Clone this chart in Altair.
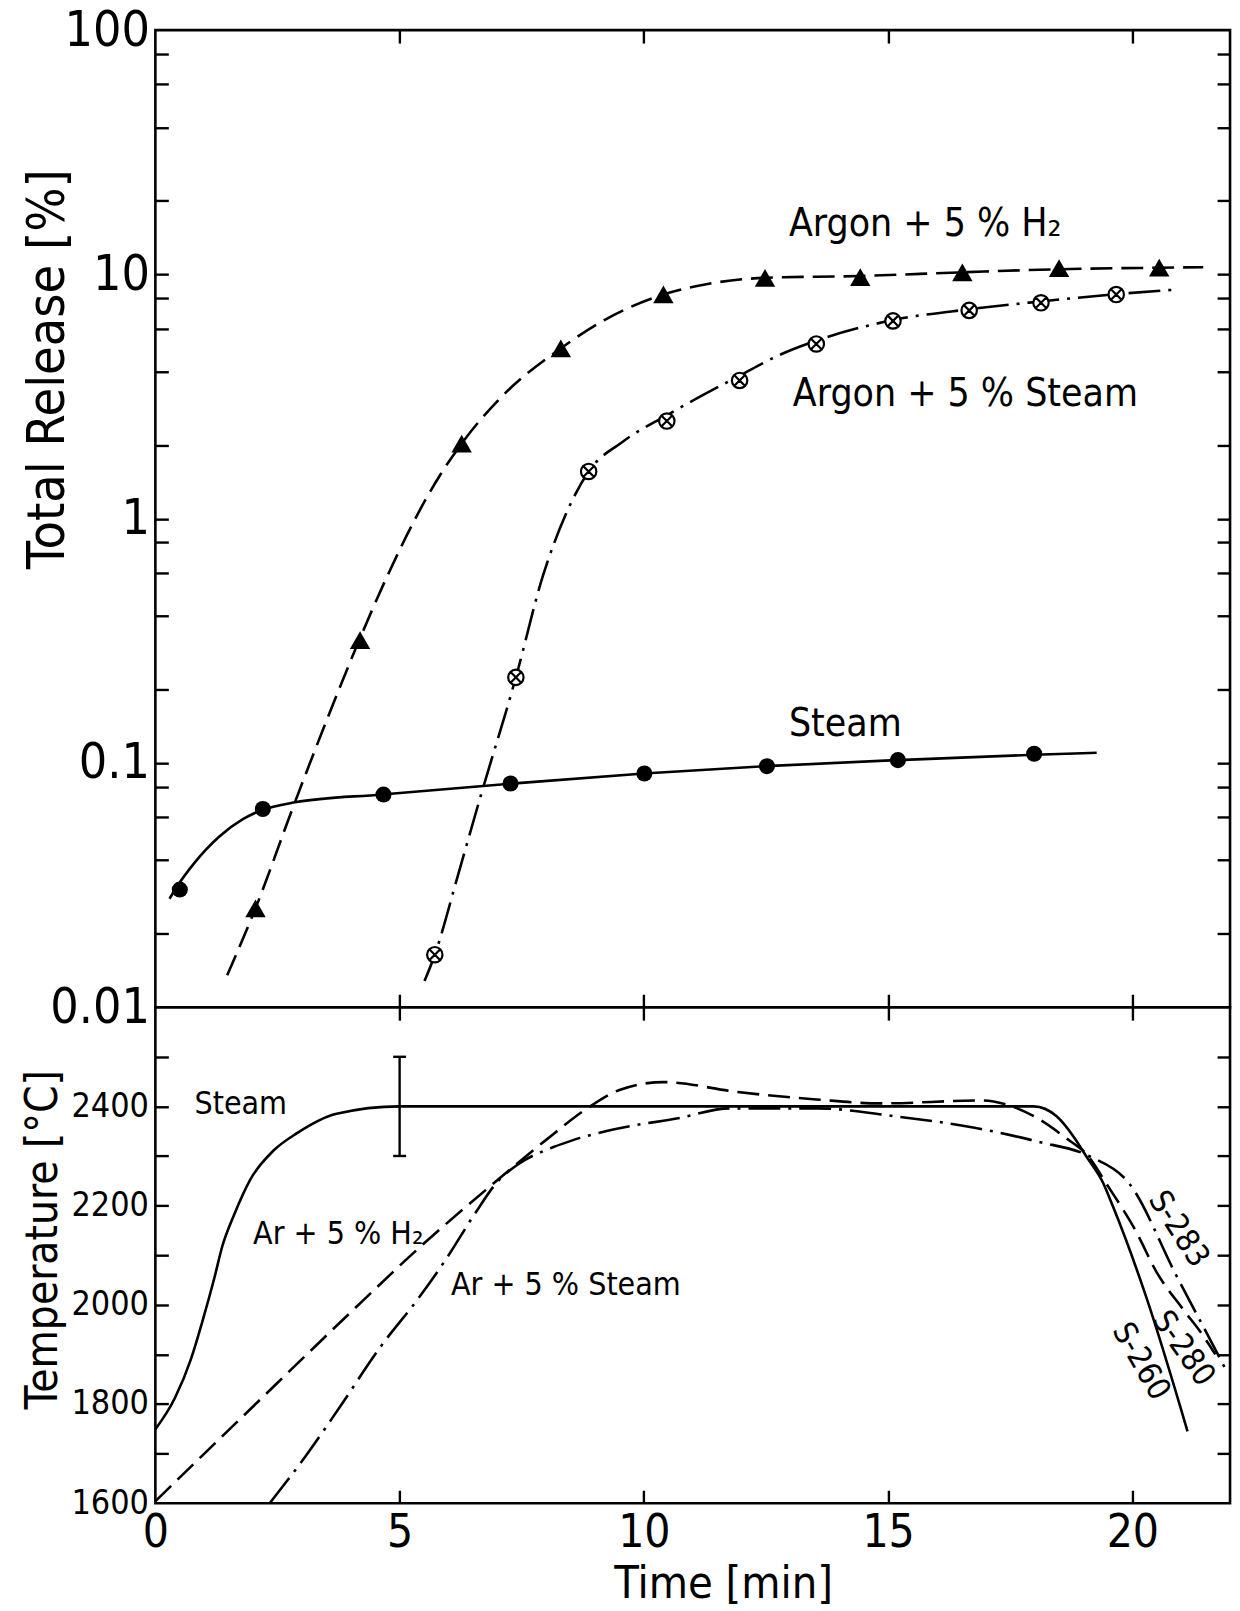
import altair as alt
import pandas as pd

# ---------------- data ----------------
# Upper panel: measured points (time in min, total release in %)
steam_pt_t = [0.50, 2.20, 4.67, 7.27, 10.01, 12.52, 15.20, 17.99]
steam_pt_v = [0.0303, 0.0648, 0.0742, 0.0824, 0.0905, 0.0970, 0.1027, 0.109]

h2_pt_t = [2.05, 4.19, 6.27, 8.30, 10.40, 12.48, 14.43, 16.52, 18.50, 20.55]
h2_pt_v = [0.0254, 0.318, 2.03, 4.98, 8.28, 9.68, 9.75, 10.2, 10.6, 10.65]

arst_pt_t = [5.72, 7.38, 8.87, 10.47, 11.96, 13.53, 15.10, 16.66, 18.13, 19.67]
arst_pt_v = [0.0164, 0.224, 1.56, 2.51, 3.68, 5.19, 6.45, 7.12, 7.65, 8.27]

# Upper panel: drawn curves
steam_fit_t = [0.29, 0.42, 0.80, 1.31, 1.80, 2.17, 2.86, 4.64, 7.27, 10.0, 12.5, 15.2, 18.0, 19.27]
steam_fit_v = [0.0278, 0.0307, 0.039, 0.050, 0.059, 0.064, 0.069, 0.0743, 0.0822, 0.0905, 0.097, 0.1027, 0.108, 0.110]

h2_fit_t = [1.47, 2.05, 2.82, 3.51, 4.17, 4.70, 5.83, 6.27, 7.05, 8.30, 9.22, 10.40, 11.25, 12.48, 14.43, 16.52, 18.50, 20.55, 21.45]
h2_fit_v = [0.0135, 0.0254, 0.066, 0.150, 0.317, 0.555, 1.51, 2.03, 3.10, 4.98, 6.55, 8.28, 9.1, 9.68, 9.85, 10.2, 10.5, 10.65, 10.7]

arst_fit_t = [5.51, 5.72, 6.20, 6.66, 7.38, 7.93, 8.40, 8.87, 9.56, 10.47, 11.96, 12.75, 13.53, 15.10, 16.66, 18.13, 19.67, 20.84]
arst_fit_v = [0.0128, 0.0164, 0.035, 0.0733, 0.224, 0.58, 1.04, 1.56, 2.06, 2.65, 3.85, 4.65, 5.35, 6.5, 7.2, 7.75, 8.3, 8.65]

# Lower panel: temperature histories (deg C)
steam_temp_t = [0.0, 0.40, 0.73, 0.97, 1.21, 1.37, 1.61, 1.94, 2.42, 2.90, 3.71, 5.0, 10.0, 15.0, 17.98, 18.45, 18.79, 19.06, 19.40, 19.60, 20.28, 21.13]
steam_temp_v = [1749, 1812, 1891, 1969, 2055, 2118, 2181, 2252, 2311, 2346, 2385, 2400, 2400, 2400, 2400, 2380, 2340, 2299, 2246, 2199, 2017, 1745]

h2_temp_t = [0.0, 2.0, 4.0, 5.4, 6.77, 7.98, 8.87, 9.5, 10.4, 11.92, 13.53, 14.83, 16.93, 17.41, 18.06, 18.63, 19.11, 19.47, 20.08, 20.49, 21.03, 21.44, 21.70]
h2_temp_v = [1604, 1795, 1985, 2115, 2232, 2331, 2398, 2433, 2449, 2429, 2414, 2406, 2412, 2404, 2376, 2337, 2298, 2244, 2147, 2067, 1992, 1939, 1900]

arst_temp_t = [2.34, 3.10, 3.79, 4.60, 5.40, 5.97, 6.53, 7.02, 7.42, 8.15, 8.55, 9.50, 10.7, 11.75, 13.53, 15.15, 16.77, 18.06, 19.11, 19.94, 20.9, 21.74, 21.95]
arst_temp_v = [1600, 1698, 1796, 1914, 2015, 2095, 2182, 2250, 2283, 2318, 2332, 2356, 2376, 2396, 2396, 2380, 2357, 2329, 2300, 2244, 2059, 1902, 1862]

# error bar on the steam temperature
err_t = [5.0]
err_lo = [2300]
err_hi = [2500]

# labels
top_label_text = ["Argon + 5 % H\u2082", "Argon + 5 % Steam", "Steam"]
top_label_t = [12.97, 13.05, 12.97]
top_label_v = [16.0, 3.25, 0.144]

bot_label_text = ["Steam", "Ar + 5 % H\u2082", "Ar + 5 % Steam"]
bot_label_t = [0.80, 2.0, 6.05]
bot_label_v = [2405, 2142, 2040]

s_label_text = ["S-283", "S-280", "S-260"]
s_label_t = [20.95, 21.05, 20.18]
s_label_v = [2153, 1912, 1886]

# axis values
x_label_values = [0, 5, 10, 15, 20]
x_tick_values = [5, 10, 15, 20]
y_log_labels = [0.01, 0.1, 1, 10, 100]
y_log_ticks = [0.02, 0.04, 0.06, 0.08, 0.1, 0.2, 0.4, 0.6, 0.8, 1,
               2, 4, 6, 8, 10, 20, 40, 60, 80]
temp_labels = [1600, 1800, 2000, 2200, 2400]
temp_ticks = [1700, 1800, 1900, 2000, 2100, 2200, 2300, 2400, 2500]

# ---------------- styling ----------------
W = 1079
H_TOP = 981
H_BOT = 498
FONT = "Liberation Sans Narrow, DejaVu Sans Condensed, Liberation Sans, sans-serif"
LW = 2.6
TICK = 13
DASH = [22, 9]
DASHDOT = [32, 8, 3, 8]
CIRCLE_X = ("M -1 0 A 1 1 0 1 1 1 0 A 1 1 0 1 1 -1 0 Z "
            "M -0.62 -0.62 L 0.62 0.62 M -0.62 0.62 L 0.62 -0.62")

xs = alt.Scale(domain=[0, 22], nice=False, zero=False)
ys_top = alt.Scale(type="log", domain=[0.01, 100], nice=False)
ys_bot = alt.Scale(domain=[1600, 2600], nice=False, zero=False)


def frame(t, v):
    return pd.DataFrame({"t": t, "v": v})


def tick_axis(orient, offset, values):
    return alt.Axis(orient=orient, offset=offset, values=values, labels=False,
                    domain=False, grid=False, ticks=True, tickSize=TICK,
                    tickWidth=2.4, tickColor="black", title=None)


def X(axis):
    return alt.X("t:Q", scale=xs, axis=axis)


def Yt(axis):
    return alt.Y("v:Q", scale=ys_top, axis=axis)


def Yb(axis):
    return alt.Y("v:Q", scale=ys_bot, axis=axis)


# ---------------- upper panel ----------------
y_top_axis = alt.Axis(orient="left", values=y_log_labels, format="~g",
                      ticks=False, tickSize=0, domain=False, grid=False,
                      labelFontSize=50, labelPadding=6, labelOverlap=False,
                      labelFont=FONT, labelColor="black",
                      title="Total Release [%]", titleFont=FONT, titleFontSize=52,
                      titleFontWeight="normal", titleColor="black",
                      titleX=-108, titleY=340, titleAngle=-90,
                      titleAlign="center", titleBaseline="middle")

steam_line = alt.Chart(frame(steam_fit_t, steam_fit_v)).mark_line(
    color="black", strokeWidth=LW, interpolate="monotone").encode(
    x=X(tick_axis("bottom", -H_TOP, x_tick_values)), y=Yt(y_top_axis))
h2_line = alt.Chart(frame(h2_fit_t, h2_fit_v)).mark_line(
    color="black", strokeWidth=LW, strokeDash=DASH, interpolate="monotone").encode(
    x=X(tick_axis("top", -H_TOP, x_tick_values)), y=Yt(tick_axis("right", -W, y_log_ticks)))
arst_line = alt.Chart(frame(arst_fit_t, arst_fit_v)).mark_line(
    color="black", strokeWidth=LW, strokeDash=DASHDOT, interpolate="monotone").encode(
    x=X(None), y=Yt(tick_axis("left", -W, y_log_ticks)))

steam_pts = alt.Chart(frame(steam_pt_t, steam_pt_v)).mark_point(
    shape="circle", filled=True, size=260, color="black", opacity=1).encode(
    x=X(None), y=Yt(None))
h2_pts = alt.Chart(frame(h2_pt_t, h2_pt_v)).mark_point(
    shape="triangle-up", filled=True, size=420, color="black", opacity=1).encode(
    x=X(None), y=Yt(None))
arst_pts = alt.Chart(frame(arst_pt_t, arst_pt_v)).mark_point(
    shape=CIRCLE_X, fill="white", stroke="black", strokeWidth=2.2, size=240,
    opacity=1, fillOpacity=1).encode(x=X(None), y=Yt(None))

top_labels = alt.Chart(pd.DataFrame({"t": top_label_t, "v": top_label_v,
                                     "txt": top_label_text})).mark_text(
    align="left", baseline="middle", font=FONT, fontSize=39, color="black").encode(
    x=X(None), y=Yt(None), text="txt:N")

top = alt.layer(steam_line, h2_line, arst_line, steam_pts, h2_pts, arst_pts,
                top_labels).properties(width=W, height=H_TOP).resolve_axis(
    x="independent", y="independent")

# ---------------- lower panel ----------------
x_bot_axis = alt.Axis(orient="bottom", values=x_label_values, format="d",
                      ticks=False, tickSize=0, domain=False, grid=False,
                      labelFontSize=46, labelPadding=7, labelFlush=False,
                      labelOverlap=False, labelFont=FONT, labelColor="black",
                      title="Time [min]", titleFont=FONT, titleFontSize=45,
                      titleFontWeight="normal", titleColor="black",
                      titleX=570, titleY=95, titleAlign="center",
                      titleBaseline="alphabetic")
y_bot_axis = alt.Axis(orient="left", values=temp_labels, format="d",
                      ticks=False, tickSize=0, domain=False, grid=False,
                      labelFontSize=34, labelPadding=7, labelOverlap=False,
                      labelFont=FONT, labelColor="black",
                      title="Temperature [\u00b0C]", titleFont=FONT, titleFontSize=44,
                      titleFontWeight="normal", titleColor="black",
                      titleX=-112, titleY=233, titleAngle=-90,
                      titleAlign="center", titleBaseline="middle")

steam_temp = alt.Chart(frame(steam_temp_t, steam_temp_v)).mark_line(
    color="black", strokeWidth=LW, interpolate="monotone").encode(
    x=X(x_bot_axis), y=Yb(y_bot_axis))
h2_temp = alt.Chart(frame(h2_temp_t, h2_temp_v)).mark_line(
    color="black", strokeWidth=LW, strokeDash=DASH, interpolate="monotone").encode(
    x=X(tick_axis("top", -H_BOT, x_tick_values)), y=Yb(tick_axis("right", -W, temp_ticks)))
arst_temp = alt.Chart(frame(arst_temp_t, arst_temp_v)).mark_line(
    color="black", strokeWidth=LW, strokeDash=DASHDOT, interpolate="monotone").encode(
    x=X(tick_axis("bottom", -H_BOT, x_tick_values)), y=Yb(tick_axis("left", -W, temp_ticks)))

err_df = pd.DataFrame({"t": err_t, "lo": err_lo, "hi": err_hi})
err_rule = alt.Chart(err_df).mark_rule(color="black", strokeWidth=2.4).encode(
    x=X(None), y=alt.Y("lo:Q", scale=ys_bot, axis=None), y2="hi:Q")
err_caps = alt.Chart(frame(err_t * 2, err_lo + err_hi)).mark_tick(
    orient="horizontal", size=13, thickness=2.4, color="black", opacity=1).encode(
    x=X(None), y=Yb(None))

bot_labels = alt.Chart(pd.DataFrame({"t": bot_label_t, "v": bot_label_v,
                                     "txt": bot_label_text})).mark_text(
    align="left", baseline="middle", font=FONT, fontSize=32, color="black").encode(
    x=X(None), y=Yb(None), text="txt:N")

s_angles = [57, 55, 60]
s_layers = []
for i in range(3):
    s_layers.append(alt.Chart(pd.DataFrame({"t": [s_label_t[i]], "v": [s_label_v[i]],
                                            "txt": [s_label_text[i]]})).mark_text(
        align="center", baseline="middle", font=FONT, fontSize=32, color="black",
        angle=s_angles[i]).encode(x=X(None), y=Yb(None), text="txt:N"))

bottom = alt.layer(steam_temp, h2_temp, arst_temp, err_rule, err_caps, bot_labels,
                   *s_layers).properties(width=W, height=H_BOT).resolve_axis(
    x="independent", y="independent")

chart = alt.vconcat(top, bottom, spacing=0, bounds="flush").properties(
    padding={"left": 20, "top": 0, "right": 5, "bottom": 0},
    background="white",
).configure_view(stroke="black", strokeWidth=2.6)

chart.save("out.html", embed_options={"renderer": "svg", "actions": False})
